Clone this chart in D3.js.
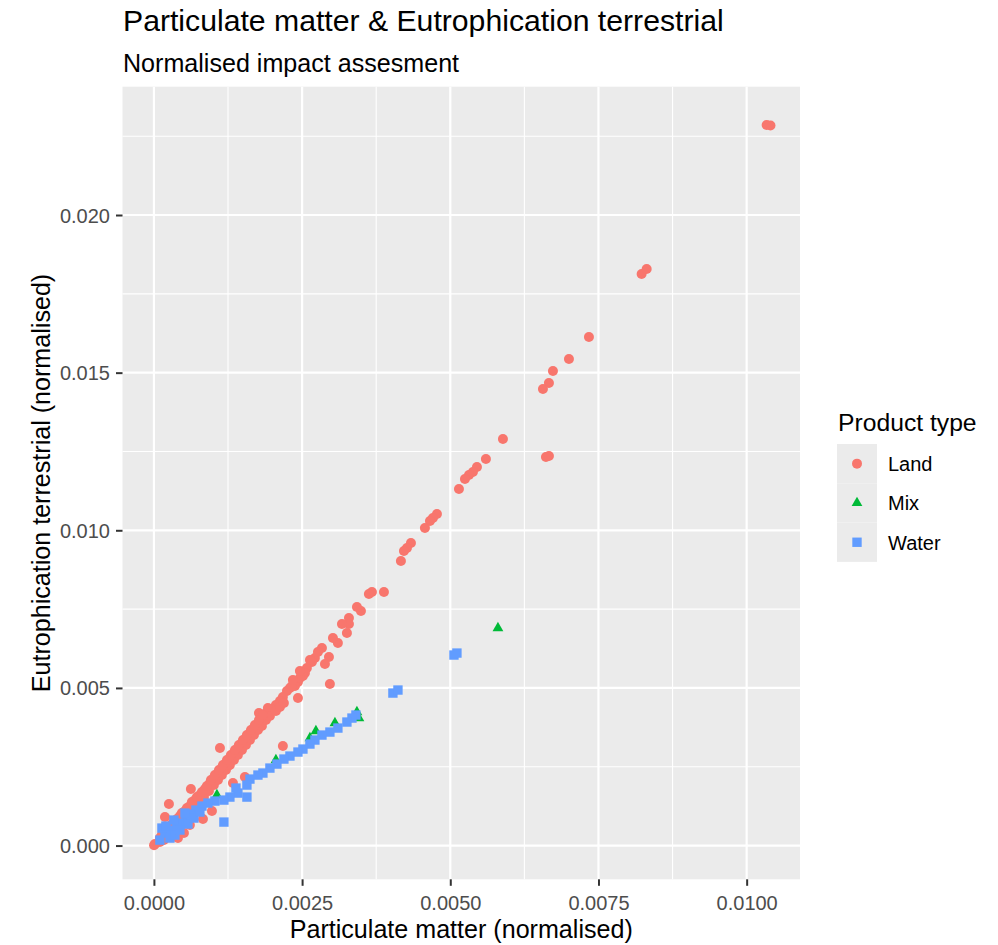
<!DOCTYPE html>
<html>
<head>
<meta charset="utf-8">
<script src="https://cdn.jsdelivr.net/npm/d3@7"></script>
<style>
  html, body { margin: 0; padding: 0; background: #ffffff; }
  svg { display: block; font-family: "Liberation Sans", Arial, sans-serif; }
</style>
</head>
<body>
<svg id="chart" width="998" height="945"></svg>
<script>
// Product categories and their colours / shapes
const categories = ["Land", "Mix", "Water"];
const colors = ["#F8766D", "#00BA38", "#619CFF"];

// Land products: particulate matter (x) and terrestrial eutrophication (y), normalised
const landPM = [
  0.010337, 0.010402, 0.008228, 0.008313, 0.007339, 0.007002, 0.006732, 0.006664, 0.006563, 0.006614,
  0.006664, 0.005888, 0.005601, 0.005450, 0.005382, 0.005315, 0.005247, 0.005146, 0.004775, 0.004707,
  0.004657, 0.004572, 0.004336, 0.004269, 0.004218, 0.004167, 0.003881, 0.003678, 0.003627, 0.003493,
  0.003425, 0.003290, 0.003290, 0.003172, 0.003256, 0.003104, 0.002835, 0.002953, 0.002885, 0.002716,
  0.002666, 0.002581, 0.002548, 0.002514, 0.002969, 0.002430, 0.002379, 0.002295, 0.002244, 0.002430,
  0.002176, 0.002126, 0.002058, 0.001991, 0.001772, 0.001890, 0.001822, 0.001755, 0.001687, 0.001620,
  0.001552, 0.001485, 0.001417, 0.001350, 0.001282, 0.001215, 0.001147, 0.001080, 0.001012, 0.000945,
  0.000860, 0.000776, 0.000692, 0.000607, 0.000523, 0.000439, 0.000354, 0.000270, 0.000186, 0.000101,
  0.000017, 0.000002, 0.001249, 0.001384, 0.001518, 0.001721, 0.001856, 0.001046, 0.000911, 0.000742,
  0.000574, 0.000405, 0.000236, 0.000101, 0.000169, 0.001923, 0.002328, 0.002463, 0.002176, 0.001114,
  0.001535, 0.001333, 0.000979, 0.000827, 0.000624, 0.000253, 0.000186, 0.000405, 0.000506, 0.000607,
  0.000169, 0.000253, 0.000337, 0.000422, 0.000506, 0.000591, 0.000675, 0.000759, 0.000844, 0.000928,
  0.001012, 0.001080, 0.001147, 0.001215, 0.001282, 0.001350, 0.001417, 0.001485, 0.001552, 0.001620,
  0.001687, 0.001755, 0.001822, 0.001890, 0.001957, 0.002058, 0.002126, 0.002193,
  0.000135, 0.000219, 0.000304, 0.000388, 0.000472, 0.000557, 0.000641, 0.000726, 0.000810, 0.000894,
  0.000962, 0.001029, 0.001097, 0.001164, 0.001232, 0.001299, 0.001367, 0.001434, 0.001502, 0.001569,
  0.001637, 0.001704, 0.001772, 0.001839,
  0.002345, 0.002463, 0.002632, 0.002767, 0.003020
];
const landEU = [
  0.022855, 0.022839, 0.018128, 0.018287, 0.016130, 0.015432, 0.015052, 0.014671, 0.014481, 0.012324,
  0.012355, 0.012895, 0.012260, 0.012006, 0.011848, 0.011753, 0.011626, 0.011308, 0.010515, 0.010389,
  0.010293, 0.010071, 0.009596, 0.009437, 0.009342, 0.009025, 0.008041, 0.008041, 0.007978, 0.007439,
  0.007565, 0.007216, 0.007026, 0.007026, 0.006741, 0.006423, 0.006265, 0.005979, 0.005757, 0.005948,
  0.005821, 0.005630, 0.005472, 0.005377, 0.005123, 0.005186, 0.005059, 0.004996, 0.004901, 0.004679,
  0.004711, 0.004584, 0.004457, 0.004330, 0.004203, 0.004203, 0.004044, 0.003854, 0.003727, 0.003569,
  0.003410, 0.003251, 0.003093, 0.002934, 0.002776, 0.002617, 0.002458, 0.002300, 0.002141, 0.001983,
  0.001792, 0.001602, 0.001443, 0.001253, 0.001094, 0.000936, 0.000745, 0.000587, 0.000397, 0.000238,
  0.000048, 0.000010, 0.002522, 0.002871, 0.003188, 0.003664, 0.003981, 0.002078, 0.001761, 0.001443,
  0.001063, 0.000682, 0.000333, 0.000111, 0.000238, 0.004362, 0.005059, 0.005313, 0.003156, 0.003093,
  0.002173, 0.001983, 0.001094, 0.000841, 0.001792, 0.001316, 0.000904, 0.000238, 0.000397, 0.000650,
  0.000174, 0.000333, 0.000523, 0.000682, 0.000872, 0.001031, 0.001190, 0.001380, 0.001538, 0.001729,
  0.001919, 0.002078, 0.002236, 0.002395, 0.002554, 0.002712, 0.002871, 0.003029, 0.003188, 0.003347,
  0.003505, 0.003664, 0.003791, 0.003981, 0.004108, 0.004266, 0.004393, 0.004520,
  0.000333, 0.000492, 0.000682, 0.000841, 0.001031, 0.001190, 0.001380, 0.001538, 0.001697, 0.001887,
  0.002078, 0.002236, 0.002395, 0.002554, 0.002712, 0.002871, 0.003029, 0.003188, 0.003347, 0.003505,
  0.003664, 0.003822, 0.003981, 0.004140,
  0.005250, 0.005535, 0.005884, 0.006138, 0.006582
];

// Mixed products
const mixPM = [0.001063, 0.002058, 0.002632, 0.002733, 0.003054, 0.003425, 0.003459, 0.005804];
const mixEU = [0.001602, 0.002712, 0.003410, 0.003632, 0.003886, 0.004235, 0.004044, 0.006899];

// Water products
const waterPM = [
  0.005062, 0.005112, 0.004032, 0.004117, 0.003408, 0.003341, 0.003256, 0.003104, 0.002969, 0.002835,
  0.002716, 0.002632, 0.002514, 0.002430, 0.002295, 0.002193, 0.002075, 0.001957, 0.001839, 0.001755,
  0.001620, 0.001569, 0.001569, 0.001417, 0.001282, 0.001181, 0.001181, 0.001029, 0.000911, 0.000810,
  0.000709, 0.000607, 0.000540, 0.000472, 0.000388, 0.000287, 0.000186, 0.000135, 0.000270, 0.000354,
  0.000574, 0.000675, 0.000776, 0.000439, 0.000101, 0.000202, 0.000337, 0.000523, 0.001384
];
const waterEU = [
  0.006043, 0.006106, 0.004837, 0.004933, 0.004140, 0.004044, 0.003918, 0.003727, 0.003600, 0.003505,
  0.003347, 0.003220, 0.003061, 0.002966, 0.002839, 0.002744, 0.002585, 0.002458, 0.002300, 0.002236,
  0.002109, 0.001919, 0.001538, 0.001665, 0.001538, 0.001443, 0.000745, 0.001412, 0.001348, 0.001253,
  0.001126, 0.000999, 0.000841, 0.000714, 0.000587, 0.000492, 0.000397, 0.000555, 0.000238, 0.000333,
  0.000682, 0.000872, 0.001063, 0.000492, 0.000174, 0.000619, 0.000809, 0.001031, 0.001824
];

// Axis ticks
const xTicks = [0, 0.0025, 0.005, 0.0075, 0.01];
const yTicks = [0, 0.005, 0.01, 0.015, 0.02];
const xMinor = [0.00125, 0.00375, 0.00625, 0.00875];
const yMinor = [0.0025, 0.0075, 0.0125, 0.0175, 0.0225];

const titleText = "Particulate matter & Eutrophication terrestrial";
const subtitleText = "Normalised impact assesment";
const xTitle = "Particulate matter (normalised)";
const yTitle = "Eutrophication terrestrial (normalised)";
const legendTitle = "Product type";

// ---- layout ----
const panel = { left: 122.5, right: 800, top: 86.7, bottom: 879.3 };
const svg = d3.select("#chart");

const x = d3.scaleLinear().domain([-0.00053, 0.0109]).range([panel.left, panel.right]);
const y = d3.scaleLinear().domain([-0.00107, 0.02407]).range([panel.bottom, panel.top]);

// panel background
svg.append("rect")
  .attr("x", panel.left).attr("y", panel.top)
  .attr("width", panel.right - panel.left).attr("height", panel.bottom - panel.top)
  .attr("fill", "#EBEBEB");

const grid = svg.append("g");
// minor grid
grid.selectAll("line.xmin").data(xMinor).join("line")
  .attr("x1", d => x(d)).attr("x2", d => x(d))
  .attr("y1", panel.top).attr("y2", panel.bottom)
  .attr("stroke", "#ffffff").attr("stroke-width", 1.1);
grid.selectAll("line.ymin").data(yMinor).join("line")
  .attr("y1", d => y(d)).attr("y2", d => y(d))
  .attr("x1", panel.left).attr("x2", panel.right)
  .attr("stroke", "#ffffff").attr("stroke-width", 1.1);
// major grid
grid.selectAll("line.xmaj").data(xTicks).join("line")
  .attr("x1", d => x(d)).attr("x2", d => x(d))
  .attr("y1", panel.top).attr("y2", panel.bottom)
  .attr("stroke", "#ffffff").attr("stroke-width", 2.2);
grid.selectAll("line.ymaj").data(yTicks).join("line")
  .attr("y1", d => y(d)).attr("y2", d => y(d))
  .attr("x1", panel.left).attr("x2", panel.right)
  .attr("stroke", "#ffffff").attr("stroke-width", 2.2);

// axes
const xAxis = d3.axisBottom(x).tickValues(xTicks).tickFormat(d3.format(".4f")).tickSize(6.5).tickPadding(8);
const yAxis = d3.axisLeft(y).tickValues(yTicks).tickFormat(d3.format(".3f")).tickSize(6.5).tickPadding(6);

const gx = svg.append("g").attr("transform", `translate(0,${panel.bottom})`).call(xAxis);
const gy = svg.append("g").attr("transform", `translate(${panel.left},0)`).call(yAxis);
[gx, gy].forEach(g => {
  g.select(".domain").remove();
  g.selectAll(".tick line").attr("stroke", "#333333").attr("stroke-width", 2);
  g.selectAll(".tick text").attr("fill", "#4D4D4D").attr("font-size", 20)
    .attr("font-family", "'Liberation Sans', Arial, sans-serif");
});
gx.selectAll(".tick text").attr("dy", null).attr("y", 31);
gy.selectAll(".tick text").attr("dy", "0.35em");

// symbols
const shapeOf = {
  Land: d3.symbol().type(d3.symbolCircle).size(Math.PI * 5 * 5),
  Mix: d3.symbol().type(d3.symbolTriangle).size(50),
  Water: d3.symbol().type(d3.symbolSquare).size(88)
};

const series = [
  { name: "Land", xs: landPM, ys: landEU },
  { name: "Mix", xs: mixPM, ys: mixEU },
  { name: "Water", xs: waterPM, ys: waterEU }
];

const pts = svg.append("g");
series.forEach((s, i) => {
  const data = s.xs.map((v, j) => ({ x: v, y: s.ys[j] }));
  pts.append("g").selectAll("path").data(data).join("path")
    .attr("d", shapeOf[s.name]())
    .attr("transform", d => `translate(${x(d.x)},${y(d.y)})`)
    .attr("fill", colors[i]);
});

// titles
svg.append("text").attr("x", 123).attr("y", 31)
  .attr("font-size", 30.2).attr("fill", "#000").text(titleText);
svg.append("text").attr("x", 123).attr("y", 72)
  .attr("font-size", 25.1).attr("fill", "#000").text(subtitleText);

svg.append("text").attr("x", (panel.left + panel.right) / 2).attr("y", 938)
  .attr("text-anchor", "middle").attr("font-size", 25.1).attr("fill", "#000").text(xTitle);
svg.append("text")
  .attr("transform", `translate(50,${(panel.top + panel.bottom) / 2}) rotate(-90)`)
  .attr("text-anchor", "middle").attr("font-size", 25.1).attr("fill", "#000").text(yTitle);

// legend
const legend = svg.append("g");
legend.append("text").attr("x", 838).attr("y", 431)
  .attr("font-size", 24.7).attr("fill", "#000").text(legendTitle);
const keyH = 39.3;
categories.forEach((c, i) => {
  const top = 444 + i * keyH;
  legend.append("rect").attr("x", 837).attr("y", top).attr("width", 40).attr("height", keyH)
    .attr("fill", "#EBEBEB");
  legend.append("path").attr("d", shapeOf[c]())
    .attr("transform", `translate(857,${top + keyH / 2})`).attr("fill", colors[i]);
  legend.append("text").attr("x", 888).attr("y", top + keyH / 2 + 7.5)
    .attr("font-size", 20).attr("fill", "#000").text(c);
});
</script>
</body>
</html>
